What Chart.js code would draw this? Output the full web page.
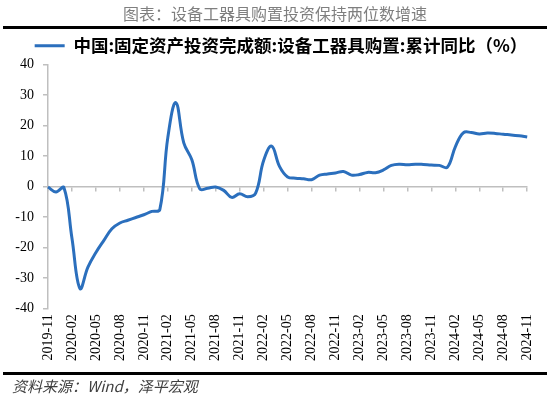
<!DOCTYPE html>
<html>
<head>
<meta charset="utf-8">
<script src="https://cdn.jsdelivr.net/npm/chart.js@4/dist/chart.umd.min.js"></script>
<style>
  html, body { margin: 0; padding: 0; background: #ffffff; }
  #wrap { position: relative; width: 550px; height: 399px; overflow: hidden; }
  #c { position: absolute; left: 0; top: 0; }
  #title { position: absolute; left: 0; width: 550px; top: 3px; text-align: center;
    font-family: "Noto Sans CJK SC", sans-serif; font-size: 16px; color: #7f7f7f; line-height: 20px; }
  .rule { position: absolute; left: 3px; width: 544px; height: 3px; background: #000; }
  #source { position: absolute; left: 12px; top: 376px; font-family: "Noto Sans CJK SC", sans-serif;
    font-size: 15px; font-style: italic; color: #404040; line-height: 20px; }
</style>
</head>
<body>
<div id="wrap">
  <canvas id="c" width="550" height="399"></canvas>
  <div id="title">图表：设备工器具购置投资保持两位数增速</div>
  <div class="rule" style="top:26px"></div>
  <div class="rule" style="top:372px"></div>
  <div id="source">资料来源：Wind，泽平宏观</div>
</div>
<script>
const seriesName = "中国:固定资产投资完成额:设备工器具购置:累计同比（%）";
const categories = [
  "2019-11","2019-12",
  "2020-01","2020-02","2020-03","2020-04","2020-05","2020-06","2020-07","2020-08","2020-09","2020-10","2020-11","2020-12",
  "2021-01","2021-02","2021-03","2021-04","2021-05","2021-06","2021-07","2021-08","2021-09","2021-10","2021-11","2021-12",
  "2022-01","2022-02","2022-03","2022-04","2022-05","2022-06","2022-07","2022-08","2022-09","2022-10","2022-11","2022-12",
  "2023-01","2023-02","2023-03","2023-04","2023-05","2023-06","2023-07","2023-08","2023-09","2023-10","2023-11","2023-12",
  "2024-01","2024-02","2024-03","2024-04","2024-05","2024-06","2024-07","2024-08","2024-09","2024-10","2024-11"
];
const values = [
  -0.2, -1.8,
  -0.4, -17.0, -33.5, -26.5, -21.7, -17.7, -13.9, -12.0, -11.1, -10.2, -9.3, -8.2,
  -7.6, 16.0, 27.5, 14.3, 8.8, -0.8, -0.6, -0.2, -1.3, -3.6, -2.4, -3.4,
  -2.2, 8.5, 13.2, 6.5, 3.1, 2.7, 2.5, 2.2, 3.7, 4.1, 4.4, 4.9,
  3.7, 3.9, 4.6, 4.5, 5.4, 6.9, 7.3, 7.1, 7.3, 7.2, 7.0, 6.9,
  6.3, 13.0, 17.6, 17.7, 17.2, 17.5, 17.4, 17.1, 16.9, 16.6, 16.2
];
const yTicks = [40, 30, 20, 10, 0, -10, -20, -30, -40];
const labelEvery = 3;

const axisGray = '#bfbfbf';
const serif = '"Liberation Serif", "Times New Roman", serif';

// shift the legend block slightly right, as in the reference
const legendShift = {
  id: 'legendShift',
  afterLayout(chart) {
    if (chart.legend) { chart.legend.left += 16; chart.legend.right += 16; }
  }
};

new Chart(document.getElementById('c'), {
  type: 'line',
  data: {
    labels: categories,
    datasets: [{
      label: seriesName,
      data: values,
      borderColor: '#2b6fbd',
      backgroundColor: '#2b6fbd',
      borderWidth: 3,
      pointRadius: 0,
      tension: 0.4,
      xAxisID: 'x',
      yAxisID: 'y'
    }]
  },
  plugins: [legendShift],
  options: {
    responsive: false,
    animation: false,
    layout: { padding: { top: 32, left: 0, right: 20, bottom: 32 } },
    plugins: {
      legend: {
        display: true,
        position: 'top',
        align: 'center',
        labels: {
          boxWidth: 30,
          boxHeight: 0,
          padding: 5,
          color: '#000',
          font: { family: '"Noto Sans CJK SC", sans-serif', size: 17.5, weight: 'bold' }
        }
      },
      tooltip: { enabled: false }
    },
    scales: {
      y: {
        position: 'left',
        min: Math.min(...yTicks),
        max: Math.max(...yTicks),
        afterFit: (s) => { s.width = 48; },
        ticks: { stepSize: 10, padding: 9, color: '#000', font: { family: serif, size: 14 } },
        grid: { drawOnChartArea: false, drawTicks: true, tickLength: 5, color: axisGray, lineWidth: 1.5 },
        border: { display: true, color: axisGray, width: 1.5 }
      },
      x: {
        type: 'category',
        position: { y: 0 },
        offset: false,
        ticks: { display: false, autoSkip: false },
        grid: {
          drawOnChartArea: false, drawTicks: true, tickLength: 4, lineWidth: 1.5,
          color: (ctx) => (ctx.index % labelEvery === 0 ? axisGray : 'rgba(0,0,0,0)')
        },
        border: { display: true, color: axisGray, width: 1.5 }
      },
      x2: {
        type: 'category',
        position: 'bottom',
        offset: false,
        grid: { display: false, drawTicks: false },
        border: { display: false },
        ticks: {
          autoSkip: false, minRotation: 90, maxRotation: 90, padding: 6,
          color: '#000', font: { family: serif, size: 14 },
          callback: function (v, i) { return i % labelEvery === 0 ? categories[i] : null; }
        }
      }
    }
  }
});
</script>
</body>
</html>
